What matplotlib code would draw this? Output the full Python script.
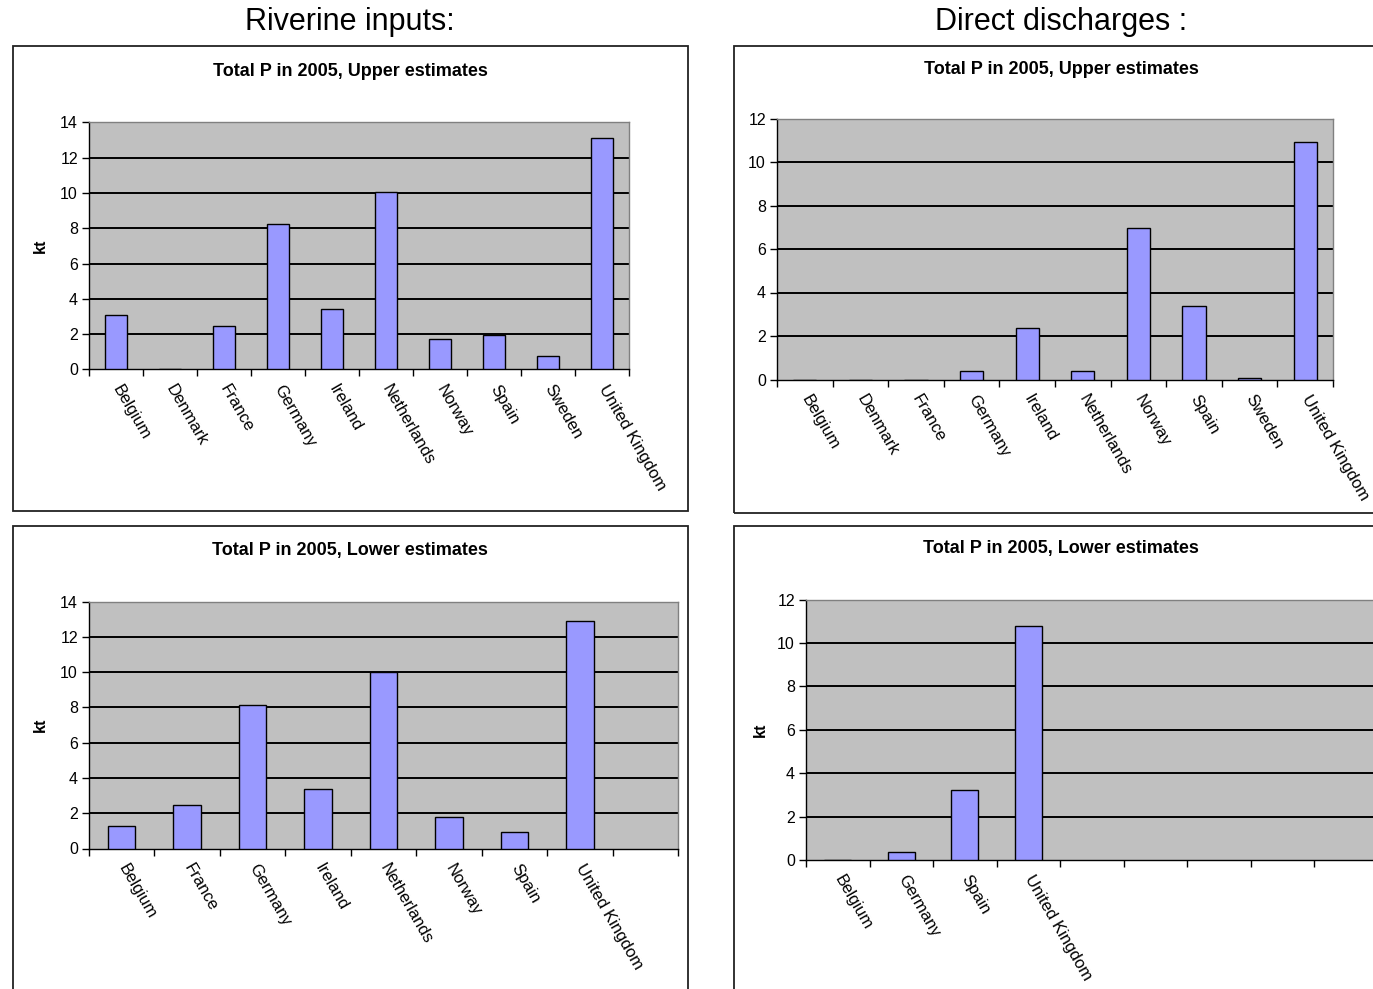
import matplotlib
matplotlib.use("Agg")
import matplotlib.pyplot as plt
from matplotlib.patches import Rectangle

plt.rcParams['font.family'] = ['Liberation Sans', 'DejaVu Sans']

# ---- data (kt of total phosphorus, 2005) ----
riv_upper_countries = ["Belgium", "Denmark", "France", "Germany", "Ireland",
                       "Netherlands", "Norway", "Spain", "Sweden", "United Kingdom"]
riv_upper_values = [3.08, 0.0, 2.46, 8.22, 3.42, 10.05, 1.75, 1.97, 0.78, 13.12]

dir_upper_countries = ["Belgium", "Denmark", "France", "Germany", "Ireland",
                       "Netherlands", "Norway", "Spain", "Sweden", "United Kingdom"]
dir_upper_values = [0.0, 0.0, 0.0, 0.38, 2.38, 0.38, 6.95, 3.37, 0.07, 10.9]

riv_lower_countries = ["Belgium", "France", "Germany", "Ireland",
                       "Netherlands", "Norway", "Spain", "United Kingdom"]
riv_lower_values = [1.27, 2.46, 8.15, 3.37, 9.98, 1.76, 0.95, 12.88]

dir_lower_countries = ["Belgium", "Germany", "Spain", "United Kingdom"]
dir_lower_values = [0.0, 0.37, 3.23, 10.79]

W, H = 1373, 989
fig = plt.figure(figsize=(W / 100, H / 100), dpi=100)
fig.patch.set_facecolor("white")

BAR_COLOR = "#9999FF"
PLOT_BG = "#C0C0C0"


def px_axes(l, t, r, b):
    return fig.add_axes([l / W, 1 - b / H, (r - l) / W, (b - t) / H])


def frame(l, t, r, b):
    fig.patches.append(Rectangle((l / W, 1 - b / H), (r - l) / W, (b - t) / H,
                                 transform=fig.transFigure, fill=False,
                                 edgecolor="#222222", lw=1.3, zorder=0))


def panel(box, title, cx, title_y, countries, values, n_slots, ymax, ylabel_x=None):
    l, t, r, b = box
    ax = px_axes(l, t, r, b)
    ax.set_facecolor(PLOT_BG)
    x = list(range(len(countries)))
    ax.bar(x, values, width=0.42, color=BAR_COLOR, edgecolor="black",
           linewidth=1.0, zorder=3)
    ax.set_xlim(-0.5, n_slots - 0.5)
    ax.set_ylim(0, ymax)
    ax.set_yticks(range(0, ymax + 1, 2))
    for yv in range(2, ymax, 2):
        ax.axhline(yv, color="black", lw=1.4, zorder=1)
    ax.tick_params(axis="y", direction="out", length=5, width=1,
                   labelsize=11.5, pad=3)
    ax.set_xticks(x)
    ax.set_xticklabels(countries, rotation=-60, ha="left", va="center",
                       rotation_mode="anchor", fontsize=12)
    ax.tick_params(axis="x", which="major", length=0, pad=12)
    ax.set_xticks([i - 0.5 for i in range(n_slots + 1)], minor=True)
    ax.tick_params(axis="x", which="minor", direction="out", length=5, width=1)
    for s in ("left", "bottom"):
        ax.spines[s].set_color("black")
        ax.spines[s].set_linewidth(1.0)
    for s in ("top", "right"):
        ax.spines[s].set_color("#808080")
        ax.spines[s].set_linewidth(1.0)
    fig.text(cx / W, 1 - title_y / H, title, ha="center", va="center",
             fontsize=13, fontweight="bold")
    if ylabel_x is not None:
        fig.text(ylabel_x / W, 1 - ((t + b) / 2) / H, "kt", rotation=90,
                 ha="center", va="center", fontsize=11.5, fontweight="bold")
    return ax


# section headings
fig.text(350 / W, 1 - 22 / H, "Riverine inputs:", ha="center", va="center", fontsize=22)
fig.text(1061 / W, 1 - 22 / H, "Direct discharges :", ha="center", va="center", fontsize=22)

# chart frames
frame(12.5, 46, 688, 511)
frame(733.5, 46, 1410, 512.5)
frame(12.5, 526.5, 688, 1010)
frame(733.5, 526.5, 1410, 1010)

panel((89, 122.5, 629, 369.5), "Total P in 2005, Upper estimates", 350, 71,
      riv_upper_countries, riv_upper_values, 10, 14, ylabel_x=40)
panel((777, 118.5, 1333, 379.5), "Total P in 2005, Upper estimates", 1061, 70,
      dir_upper_countries, dir_upper_values, 10, 12)
panel((89, 601.5, 678, 848.5), "Total P in 2005, Lower estimates", 350, 550,
      riv_lower_countries, riv_lower_values, 9, 14, ylabel_x=40)
panel((806, 599.5, 1377.5, 860), "Total P in 2005, Lower estimates", 1061, 549,
      dir_lower_countries, dir_lower_values, 9, 12, ylabel_x=760)

fig.savefig("out.png", dpi=100)
